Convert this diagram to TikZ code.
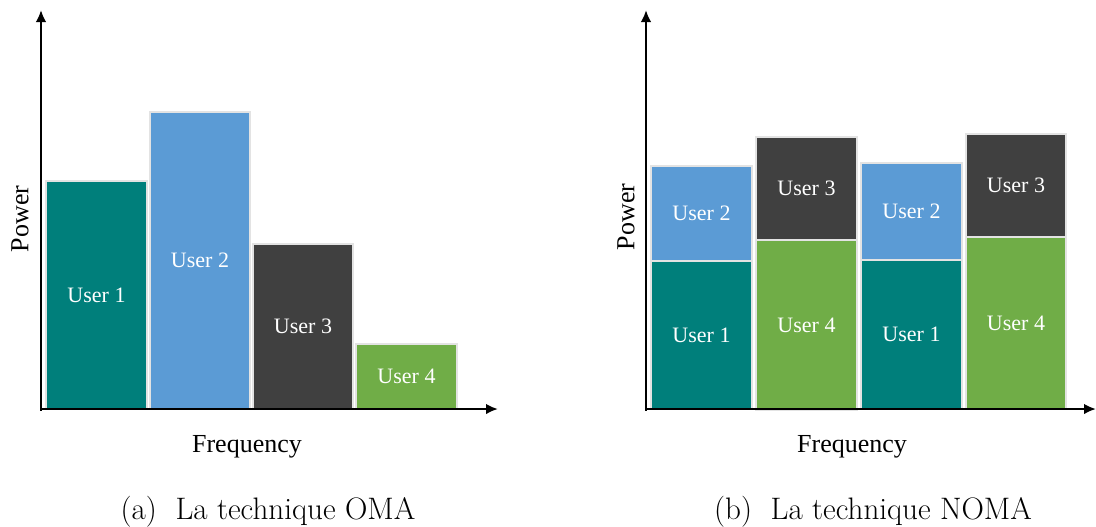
\documentclass[tikz,border=0pt]{standalone}
\usepackage{fontspec}
\usetikzlibrary{arrows.meta}
\newfontfamily\tnr{Liberation Serif}
\definecolor{uteal}{RGB}{0,127,123}
\definecolor{ublue}{RGB}{91,155,213}
\definecolor{udark}{RGB}{64,64,64}
\definecolor{ugreen}{RGB}{112,173,71}
\tikzset{
  axis/.style={line width=1.9pt, -{Latex[length=9pt,width=8pt]}},
  barbox/.style={draw=gray!22, line width=0.8pt},
  ulabel/.style={text=white, font=\tnr\fontsize{16.5}{18}\selectfont, inner sep=0pt},
  axlabel/.style={font=\tnr\fontsize{19.5}{22}\selectfont, inner sep=0pt},
  caplabel/.style={font=\fontsize{23.3}{27}\selectfont, inner sep=0pt},
}
\newcommand{\userbox}[7]{%
  \path[barbox, fill=#5] (#1,#2) rectangle (#3,#4);
  \node[ulabel] (#6) at ({(#1+#3)/2},{(#2+#4)/2}) {#7};
}
\begin{document}
\begin{tikzpicture}[x=0.75pt, y=-0.75pt]
\useasboundingbox (0,0) rectangle (1096,526);
% ---------- (a) OMA ----------
\userbox{46}{181}{147}{409}{uteal}{a1}{User 1}
\userbox{150}{112}{250}{409}{ublue}{a2}{User 2}
\userbox{253}{244}{353}{409}{udark}{a3}{User 3}
\userbox{356}{344}{457}{409}{ugreen}{a4}{User 4}
\coordinate (ay0) at (41,410.5);
\coordinate (ay) at (41,10);
\coordinate (ax0) at (40,409);
\coordinate (ax) at (498,409);
\draw[axis] (ay0) -- (ay);
\draw[axis] (ax0) -- (ax);
\node[axlabel, rotate=90] (apow) at (20,219) {Power};
\node[axlabel] (afreq) at (247,447) {Frequency};
\node[caplabel] (acap) at (268,512) {(a)\hspace{0.6em}La technique OMA};
% ---------- (b) NOMA ----------
\userbox{651}{261}{752}{409}{uteal}{b1}{User 1}
\userbox{651}{166}{752}{261}{ublue}{b2}{User 2}
\userbox{756}{240}{857}{410}{ugreen}{b4}{User 4}
\userbox{756}{137}{857}{240}{udark}{b3}{User 3}
\userbox{861}{260}{962}{409}{uteal}{c1}{User 1}
\userbox{861}{163}{962}{260}{ublue}{c2}{User 2}
\userbox{966}{237}{1066}{409}{ugreen}{c4}{User 4}
\userbox{966}{134}{1066}{237}{udark}{c3}{User 3}
\coordinate (by0) at (646,410.5);
\coordinate (by) at (646,10);
\coordinate (bx0) at (645,409);
\coordinate (bx) at (1096,409);
\draw[axis] (by0) -- (by);
\draw[axis] (bx0) -- (bx);
\node[axlabel, rotate=90] (bpow) at (626,217) {Power};
\node[axlabel] (bfreq) at (852,447) {Frequency};
\node[caplabel] (bcap) at (873,512) {(b)\hspace{0.6em}La technique NOMA};
\end{tikzpicture}
\end{document}
